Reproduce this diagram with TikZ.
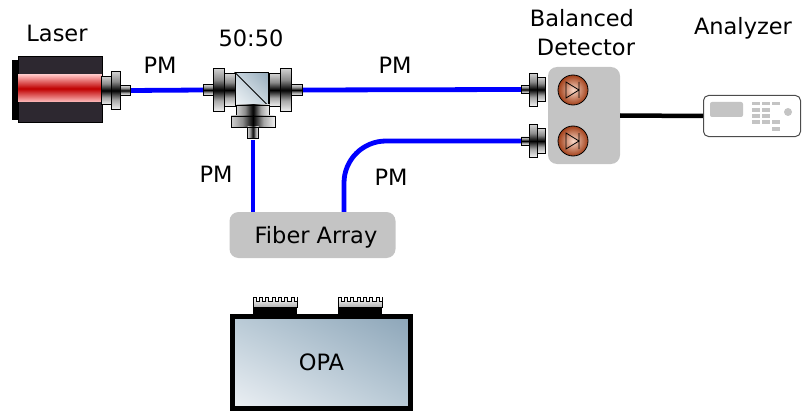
\documentclass[tikz,border=0pt]{standalone}
\usepackage{fontspec}
\setmainfont{DejaVu Sans}
\usetikzlibrary{calc,shadings}

% metallic look of the fiber connectors
\pgfdeclareverticalshading{metalv}{100bp}{color(0bp)=(white); color(25bp)=(white!95!black);
  color(38bp)=(gray!70); color(50bp)=(black); color(62bp)=(gray!90); color(75bp)=(gray!35); color(100bp)=(gray!35)}
\pgfdeclarehorizontalshading{metalh}{100bp}{color(0bp)=(gray!35); color(25bp)=(gray!35);
  color(38bp)=(gray!90); color(50bp)=(black); color(62bp)=(gray!70); color(75bp)=(white!95!black); color(100bp)=(white)}
% glowing beam inside the laser
\pgfdeclareverticalshading{beam}{100bp}{color(0bp)=(red!25); color(25bp)=(red!25);
  color(50bp)=(red!75!black); color(75bp)=(red!25); color(100bp)=(red!25)}

\definecolor{boxgray}{HTML}{C4C4C4}
\definecolor{laserbody}{HTML}{2D2830}
\definecolor{diode}{HTML}{A23F18}
\definecolor{diodelight}{HTML}{F8D8C8}
\definecolor{cubedark}{RGB}{150,172,188}
\definecolor{cubemid}{RGB}{200,213,222}
\definecolor{cubelight}{RGB}{240,244,247}
\definecolor{chipdark}{RGB}{140,165,184}
\definecolor{chipmid}{RGB}{185,202,214}
\definecolor{chiplight}{RGB}{236,240,244}

\tikzset{
  txt/.style={font=\fontsize{22.5}{27}\selectfont, inner sep=0pt},
  fiber/.style={blue, line width=4.8pt},
  grayblock/.style={fill=boxgray, rounded corners=9pt, inner sep=0pt},
  metalpart/.style={draw=black, line width=0.7pt, shading=#1},
  pics/conn/.style={code={
    \path[metalpart=#1] (20,-15) rectangle (30,15);
    \path[metalpart=#1] (10,-20) rectangle (20,20);
    \path[metalpart=#1] (0,-5) rectangle (10,5);
  }},
  pics/photodiode/.style={code={
    \shade[draw=black, line width=0.8pt, inner color=diodelight, outer color=diode] (0,0) circle (15);
    \draw[line width=0.8pt] (-7,-8) -- (6,0) -- (-7,8) -- cycle (6,-8) -- (6,8);
  }},
  pics/grating/.style={code={
    \fill[black] (0,0) rectangle (44,8);
    \shade[draw=black, line width=0.6pt, top color=white, bottom color=gray!60]
      (0,0) -- (0,-10) \foreach \i in {0,...,6} { -- ++(3,0) -- ++(0,4) -- ++(3.3,0) -- ++(0,-4) } -- (44,-10) -- (44,0) -- cycle;
  }}
}

\begin{document}
\begin{tikzpicture}[x=1pt, y=-1pt]
\useasboundingbox (0,0) rectangle (804,412);

% ---------------- labels ----------------
\node[txt] (tlaser) at (57,33) {Laser};
\node[txt] (tsplit) at (251,38) {50:50};
\node[txt] (tbal)   at (582,18) {Balanced};
\node[txt] (tdet)   at (586,47) {Detector};
\node[txt] (tan)    at (743,28) {Analyzer};
\node[txt] (pm1) at (160,65) {PM};
\node[txt] (pm2) at (395,65) {PM};
\node[txt] (pm3) at (216,174) {PM};
\node[txt] (pm4) at (391,177) {PM};

% ---------------- laser ----------------
\fill[black] (12,60) rectangle (19,120);
\node[draw=black, line width=0.7pt, fill=laserbody, minimum width=84pt, minimum height=66pt, inner sep=0pt]
  (laser) at (60,89) {};
\shade[shading=beam] ($(laser.west)+(0.5,-14)$) rectangle ($(laser.east)+(-0.5,13)$);

% ---------------- splitter cube ----------------
\node[draw=black, line width=0.8pt, minimum width=33pt, minimum height=33pt, inner sep=0pt,
  upper right=cubedark, lower left=cubelight, upper left=cubemid, lower right=cubemid]
  (split) at (251.5,89) {};
\draw[line width=0.9pt] (split.north west) -- (split.south east);

% ---------------- balanced detector ----------------
\node[grayblock, minimum width=72pt, minimum height=97pt] (det) at (584,115.5) {};
\pic at (573,90) {photodiode};
\pic at (573,141) {photodiode};

% ---------------- analyzer ----------------
\node[draw=black!70, line width=1pt, fill=white, rounded corners=5pt, minimum width=97pt,
  minimum height=41pt, inner sep=0pt] (an) at (752,116) {};
\fill[boxgray, rounded corners=2pt] (710,102) rectangle (743,117);
\foreach \x/\y in {752/102,762/102,772/102,752/108.5,762/108.5,752/114.5,762/114.5,752/120.5,762/120.5,772/120.5,772/127}
  \fill[boxgray] (\x,\y) rectangle ++(8,3.5);
\fill[boxgray] (788,112) circle (4);

% ---------------- fiber array ----------------
\node[grayblock, minimum width=166pt, minimum height=46pt] (fa) at (312.5,235) {};
\node[txt] at (316,237) {Fiber Array};

% ---------------- OPA chip ----------------
\pic at (253,307) {grating};
\pic at (338,307) {grating};
\node[draw=black, line width=5pt, minimum width=178pt, minimum height=92pt, inner sep=0pt,
  upper right=chipdark, lower left=chiplight, upper left=chipmid, lower right=chipmid]
  (opa) at (321.5,362) {};
\node[txt] at (opa.center) {OPA};

% ---------------- fiber ends ----------------
\coordinate (lasout) at (130,90.5);
\coordinate (spin)   at (203,90);
\coordinate (spout)  at (302,90);
\coordinate (spdown) at (253,140);
\coordinate (din1)   at (521,89.5);
\coordinate (din2)   at (521,141);
\coordinate (faout1) at (fa.north -| spdown);
\coordinate (faout2) at ($(fa.north)+(31.5,0)$);

% ---------------- fibers ----------------
\draw[fiber] (lasout) -- (spin);
\draw[fiber] (spout) -- (din1);
\draw[fiber] (spdown) -- (faout1);
\draw[fiber, rounded corners=42pt] (faout2) |- (din2);
\draw[black, line width=4.5pt] (det.east) -- (an.west);

% ---------------- connectors ----------------
\pic[xscale=-1, scale=0.95] at (lasout) {conn=metalv};
\pic[scale=1.08] at (spin) {conn=metalv};
\pic[xscale=-1, scale=1.08] at (spout) {conn=metalv};
\pic[rotate=90, scale=1.1] at ($(spdown)+(0,-2)$) {conn=metalh};
\pic[scale=0.82] at (din1) {conn=metalv};
\pic[scale=0.82] at (din2) {conn=metalv};
\end{tikzpicture}
\end{document}
